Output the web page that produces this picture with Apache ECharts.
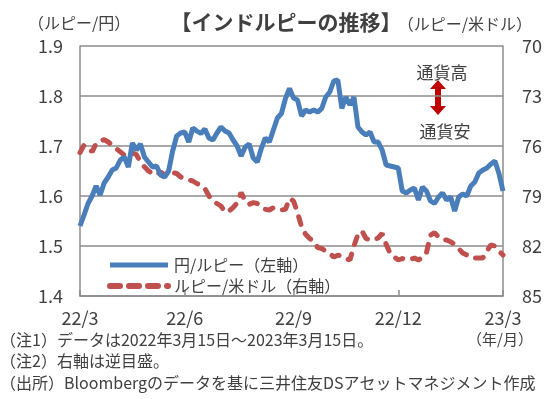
<!DOCTYPE html>
<html>
<head>
<meta charset="utf-8">
<script src="https://cdn.jsdelivr.net/npm/echarts@6/dist/echarts.min.js"></script>
<style>
  html, body { margin: 0; padding: 0; background: #fff; }
  #chart { width: 550px; height: 399px; }
</style>
</head>
<body>
<div id="chart"></div>
<script>
// 目盛ラベル（月）と位置
const tickLabels = ['22/3', '22/6', '22/9', '22/12', '23/3'];
const tickIndex = [0, 26, 53, 79, 105];

// 円/ルピー（左軸）
const jpyInr = [
  1.540, 1.562, 1.585, 1.600, 1.620, 1.602, 1.626, 1.638, 1.652, 1.656,
  1.672, 1.678, 1.658, 1.706, 1.692, 1.704, 1.678, 1.668, 1.658, 1.660,
  1.642, 1.638, 1.650, 1.690, 1.720, 1.726, 1.728, 1.708, 1.736, 1.730,
  1.725, 1.734, 1.716, 1.712, 1.726, 1.738, 1.730, 1.726, 1.712, 1.700,
  1.680, 1.698, 1.704, 1.676, 1.668, 1.695, 1.716, 1.708, 1.732, 1.756,
  1.765, 1.795, 1.815, 1.796, 1.792, 1.760, 1.772, 1.768, 1.772, 1.768,
  1.775, 1.798, 1.808, 1.830, 1.832, 1.775, 1.798, 1.782, 1.798, 1.738,
  1.728, 1.722, 1.728, 1.708, 1.708, 1.692, 1.662, 1.660, 1.658, 1.656,
  1.610, 1.606, 1.612, 1.616, 1.592, 1.618, 1.610, 1.590, 1.585, 1.598,
  1.606, 1.592, 1.598, 1.570, 1.598, 1.604, 1.600, 1.620, 1.628, 1.646,
  1.652, 1.656, 1.664, 1.670, 1.645, 1.610
];

// ルピー/米ドル（右軸・逆目盛）
const inrUsd = [
  76.40, 75.95, 76.10, 76.35, 75.85, 75.70, 75.62, 75.76, 75.95, 76.15,
  76.35, 76.55, 76.55, 76.42, 76.52, 76.95, 77.25, 77.50, 77.65, 77.74,
  77.56, 77.74, 77.58, 77.60, 77.65, 77.86, 77.95, 78.04, 78.10, 78.25,
  78.34, 78.55, 79.00, 79.30, 79.45, 79.60, 79.96, 79.90, 79.70, 79.42,
  78.80, 79.30, 79.50, 79.40, 79.45, 79.66, 79.80, 79.84, 79.70, 79.75,
  79.84, 79.80, 79.15, 79.30, 80.00, 80.85, 81.30, 81.55, 81.70, 82.10,
  82.15, 82.30, 82.45, 82.66, 82.55, 82.60, 82.75, 82.84, 82.00, 81.30,
  81.10, 81.55, 81.64, 81.62, 81.52, 81.25, 81.90, 82.45, 82.66, 82.84,
  82.75, 82.80, 82.80, 82.72, 82.84, 82.70, 82.40, 81.35, 81.20, 81.45,
  81.62, 81.64, 81.75, 81.90, 82.15, 82.42, 82.54, 82.70, 82.72, 82.72,
  82.72, 82.30, 81.94, 82.00, 82.30, 82.54
];

const categories = jpyInr.map((v, i) => String(i));

const font = '"Noto Sans CJK JP", "Noto Sans", sans-serif';
const textColor = '#404040';
const gridColor = '#8c8c8c';
const blue = '#4a7ebb';
const red = '#c0504d';

const chart = echarts.init(document.getElementById('chart'));

const option = {
  animation: false,
  backgroundColor: '#fff',
  textStyle: { fontFamily: font, color: textColor },
  grid: { left: 80, right: 47, top: 46, bottom: 103 },
  legend: {
    left: 102,
    top: 252,
    orient: 'vertical',
    itemWidth: 58,
    itemHeight: 14,
    itemGap: 5,
    itemStyle: { opacity: 0 },
    textStyle: { fontSize: 16, color: textColor, fontFamily: font, padding: [0, 0, 0, 1] },
    data: [
      { name: '円/ルピー（左軸）', lineStyle: { color: blue, width: 5 } },
      { name: 'ルピー/米ドル（右軸）', lineStyle: { color: red, width: 6, type: [10, 9], cap: 'round' } }
    ]
  },
  xAxis: {
    type: 'category',
    data: categories,
    boundaryGap: false,
    axisLine: { lineStyle: { color: gridColor, width: 1.5 } },
    axisTick: {
      inside: true,
      length: 6,
      interval: (i) => tickIndex.includes(i),
      lineStyle: { color: gridColor, width: 1.5 }
    },
    axisLabel: {
      interval: (i) => tickIndex.includes(i),
      margin: 13,
      fontSize: 18,
      color: textColor,
      formatter: (v, i) => {
        const k = tickIndex.indexOf(i);
        return k < 0 ? '' : tickLabels[k];
      }
    }
  },
  yAxis: [
    {
      type: 'value',
      min: 1.4,
      max: 1.9,
      interval: 0.1,
      axisLine: { show: true, lineStyle: { color: gridColor, width: 1.5 } },
      axisTick: { show: false },
      axisLabel: {
        fontSize: 18,
        color: textColor,
        margin: 17,
        formatter: (v) => v.toFixed(1)
      },
      splitLine: { lineStyle: { color: gridColor, width: 1.5 } }
    },
    {
      type: 'value',
      min: 70,
      max: 85,
      interval: 3,
      inverse: true,
      axisLine: { show: true, lineStyle: { color: gridColor, width: 1.5 } },
      axisTick: { show: false },
      axisLabel: { fontSize: 18, color: textColor, margin: 19 },
      splitLine: { show: false }
    }
  ],
  series: [
    {
      name: 'ルピー/米ドル（右軸）',
      type: 'line',
      yAxisIndex: 1,
      data: inrUsd,
      symbol: 'none',
      lineStyle: { color: red, width: 5, type: [8, 10], cap: 'round' },
      itemStyle: { color: red },
      z: 2
    },
    {
      name: '円/ルピー（左軸）',
      type: 'line',
      yAxisIndex: 0,
      data: jpyInr,
      symbol: 'none',
      lineStyle: { color: blue, width: 5 },
      itemStyle: { color: blue },
      z: 3
    }
  ],
  graphic: [
    { type: 'text', x: 286, y: 22, style: { text: '【インドルピーの推移】', font: 'bold 21px ' + font, fill: textColor, align: 'center', verticalAlign: 'middle' } },
    { type: 'text', x: 28, y: 23, style: { text: '（ルピー/円）', font: '16px ' + font, fill: textColor, verticalAlign: 'middle' } },
    { type: 'text', x: 532, y: 24, style: { text: '（ルピー/米ドル）', font: '16px ' + font, fill: textColor, align: 'right', verticalAlign: 'middle' } },
    { type: 'text', x: 442, y: 73, style: { text: '通貨高', font: '17px ' + font, fill: textColor, align: 'center', verticalAlign: 'middle' } },
    { type: 'text', x: 445, y: 132, style: { text: '通貨安', font: '17px ' + font, fill: textColor, align: 'center', verticalAlign: 'middle' } },
    {
      type: 'polygon',
      shape: { points: [[438, 80], [446, 89], [441, 89], [441, 106], [446, 106], [438, 115], [430, 106], [435, 106], [435, 89], [430, 89]] },
      style: { fill: '#c00000' }
    },
    { type: 'text', x: 500, y: 339, style: { text: '（年/月）', font: '15px ' + font, fill: textColor, align: 'center', verticalAlign: 'middle' } },
    { type: 'text', x: 0, y: 340, style: { text: '（注1）データは2022年3月15日～2023年3月15日。', font: '16px ' + font, fill: textColor, verticalAlign: 'middle' } },
    { type: 'text', x: 0, y: 361, style: { text: '（注2）右軸は逆目盛。', font: '16px ' + font, fill: textColor, verticalAlign: 'middle' } },
    { type: 'text', x: 0, y: 383, style: { text: '（出所）Bloombergのデータを基に三井住友DSアセットマネジメント作成', font: '16px ' + font, fill: textColor, verticalAlign: 'middle' } }
  ]
};

chart.setOption(option);
window.addEventListener('resize', () => chart.resize());
</script>
</body>
</html>
